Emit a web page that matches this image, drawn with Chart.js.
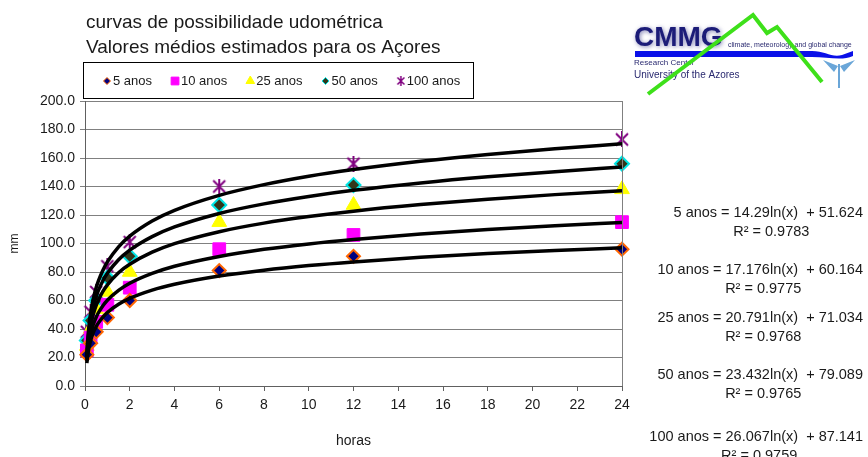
<!DOCTYPE html>
<html>
<head>
<meta charset="utf-8">
<script src="https://cdn.jsdelivr.net/npm/chart.js@4.4.1/dist/chart.umd.min.js"></script>
<style>
  html, body { margin: 0; padding: 0; background: #fff; overflow: hidden; }
  canvas { display: block; }
</style>
</head>
<body>
<canvas id="idf-chart" width="868" height="457"></canvas>
<script>
(function () {
  'use strict';

  // measured points (hours -> mm)
  const seriesLabels = ['5 anos', '10 anos', '25 anos', '50 anos', '100 anos'];
  const hours = [0.083, 0.25, 0.5, 1, 2, 6, 12, 24];
  const anos5 = [22, 30, 38, 48, 60, 81, 91, 96];
  const anos10 = [25, 34, 45, 57, 69, 96, 106, 115];
  const anos25 = [28, 40, 54, 66, 80, 115, 127, 138];
  const anos50 = [32, 46, 60, 76, 91, 127, 141, 156];
  const anos100 = [38, 52, 66, 84, 101, 140, 156, 173];

  // trend curves
  const trendHours = [0.083, 0.1, 0.12, 0.15, 0.2, 0.25, 0.33, 0.4, 0.5, 0.6, 0.8, 1, 1.5, 2, 3, 4, 6, 8, 10, 12, 15, 18, 21, 24];
  const trend5 = [16.1, 18.7, 21.3, 24.5, 28.6, 31.8, 35.8, 38.5, 41.7, 44.3, 48.4, 51.6, 57.4, 61.5, 67.3, 71.4, 77.2, 81.3, 84.5, 87.1, 90.3, 92.9, 95.1, 97.0];
  const trend10 = [17.4, 20.6, 23.8, 27.6, 32.5, 36.4, 41.1, 44.4, 48.3, 51.4, 56.3, 60.2, 67.1, 72.1, 79.0, 84.0, 90.9, 95.9, 99.7, 102.8, 106.7, 109.8, 112.5, 114.8];
  const trend25 = [19.3, 23.2, 26.9, 31.6, 37.6, 42.2, 48.0, 52.0, 56.6, 60.4, 66.4, 71.0, 79.5, 85.4, 93.9, 99.9, 108.3, 114.3, 118.9, 122.7, 127.3, 131.1, 134.3, 137.1];
  const trend50 = [20.8, 25.1, 29.4, 34.6, 41.4, 46.6, 53.1, 57.6, 62.8, 67.1, 73.9, 79.1, 88.6, 95.3, 104.8, 111.6, 121.1, 127.8, 133.0, 137.3, 142.5, 146.8, 150.4, 153.6];
  const trend100 = [22.3, 27.1, 31.9, 37.7, 45.2, 51.0, 58.2, 63.3, 69.1, 73.8, 81.3, 87.1, 97.7, 105.2, 115.8, 123.3, 133.8, 141.3, 147.2, 151.9, 157.7, 162.5, 166.5, 170.0];

  const equations = [
    '5 anos = 14.29ln(x)  + 51.624',
    '10 anos = 17.176ln(x)  + 60.164',
    '25 anos = 20.791ln(x)  + 71.034',
    '50 anos = 23.432ln(x)  + 79.089',
    '100 anos = 26.067ln(x)  + 87.141'
  ];
  const rSquared = ['R² = 0.9783', 'R² = 0.9775', 'R² = 0.9768', 'R² = 0.9765', 'R² = 0.9759'];
  const titleLines = ['curvas de possibilidade udométrica', 'Valores médios estimados para os Açores'];

  const FONT = '"Liberation Sans", Arial, sans-serif';
  const TEXT = '#1a1a1a';

  function asterisk(size, color, lw) {
    const c = document.createElement('canvas');
    c.width = size;
    c.height = size;
    const g = c.getContext('2d');
    const m = lw;
    g.strokeStyle = color;
    g.lineWidth = lw;
    g.beginPath();
    g.moveTo(m, m); g.lineTo(size - m, size - m);
    g.moveTo(size - m, m); g.lineTo(m, size - m);
    g.moveTo(size / 2, 0); g.lineTo(size / 2, size);
    g.stroke();
    return c;
  }

  const markers = [
    { pointStyle: 'rectRot', radius: 6.5, bg: '#000080', border: '#ff6600', bw: 2, lr: 3.5 },
    { pointStyle: 'rect', radius: 9, bg: '#ff00ff', border: '#ff00ff', bw: 1, lr: 5.5 },
    { pointStyle: 'triangle', radius: 8.5, bg: '#ffff00', border: '#ffff00', bw: 1, lr: 5 },
    { pointStyle: 'rectRot', radius: 7, bg: '#33361a', border: '#00e5e5', bw: 2, lr: 3.5 },
    { pointStyle: asterisk(16, '#800080', 2), radius: 8, bg: '#800080', border: '#800080', bw: 0,
      legendStyle: asterisk(10, '#800080', 1.5), lr: 5 }
  ];

  const pointSeries = [anos5, anos10, anos25, anos50, anos100];
  const trendSeries = [trend5, trend10, trend25, trend50, trend100];

  const datasets = [];
  trendSeries.forEach(function (arr, i) {
    datasets.push({
      label: 'trend ' + seriesLabels[i],
      data: trendHours.map(function (h, j) { return { x: h, y: arr[j] }; }),
      showLine: true,
      borderColor: '#000',
      borderWidth: 3.5,
      pointRadius: 0,
      cubicInterpolationMode: 'monotone',
      fill: false,
      order: 0
    });
  });
  pointSeries.forEach(function (arr, i) {
    const m = markers[i];
    datasets.push({
      label: seriesLabels[i],
      data: hours.map(function (h, j) { return { x: h, y: arr[j] }; }),
      showLine: false,
      pointStyle: m.pointStyle,
      pointRadius: m.radius,
      backgroundColor: m.bg,
      borderColor: m.border,
      borderWidth: m.bw,
      clip: false,
      order: 1
    });
  });

  const decor = {
    id: 'decor',
    afterDraw: function (chart) {
      const ctx = chart.ctx;
      const area = chart.chartArea;
      ctx.save();

      // right edge of the plot
      ctx.strokeStyle = '#808080';
      ctx.lineWidth = 1;
      ctx.beginPath();
      ctx.moveTo(Math.round(area.right) + 0.5, area.top);
      ctx.lineTo(Math.round(area.right) + 0.5, area.bottom);
      ctx.stroke();

      // title
      ctx.fillStyle = TEXT;
      ctx.textAlign = 'left';
      ctx.textBaseline = 'alphabetic';
      ctx.font = '19px ' + FONT;
      titleLines.forEach(function (t, i) { ctx.fillText(t, 86, 28 + i * 25); });

      // legend box
      ctx.strokeStyle = '#000';
      ctx.lineWidth = 1;
      ctx.strokeRect(83.5, 62.5, 390, 36);
      ctx.font = '13px ' + FONT;
      ctx.textBaseline = 'middle';
      let lx = 107;
      seriesLabels.forEach(function (label, i) {
        const m = markers[i];
        ctx.fillStyle = m.bg;
        ctx.strokeStyle = m.border;
        Chart.helpers.drawPoint(ctx, {
          pointStyle: m.legendStyle || m.pointStyle,
          radius: m.lr,
          rotation: 0,
          borderWidth: Math.min(m.bw, 1.5)
        }, lx, 81);
        ctx.fillStyle = TEXT;
        ctx.fillText(label, lx + 6, 81);
        lx += 6 + ctx.measureText(label).width + 23;
      });

      // trend equations
      ctx.font = '14.5px ' + FONT;
      ctx.textBaseline = 'middle';
      const eqY = [213, 270, 318, 375, 437];
      equations.forEach(function (eq, i) {
        const w = ctx.measureText(eq).width;
        ctx.textAlign = 'right';
        ctx.fillText(eq, 863, eqY[i]);
        ctx.textAlign = 'center';
        ctx.fillText(rSquared[i], 863 - w / 2 + 3, eqY[i] + 19);
      });

      // CMMG logo
      ctx.textAlign = 'left';
      ctx.textBaseline = 'alphabetic';
      ctx.shadowColor = 'rgba(30,30,120,0.55)';
      ctx.shadowBlur = 4;
      ctx.shadowOffsetX = 1;
      ctx.shadowOffsetY = 1;
      ctx.fillStyle = '#1c1c78';
      ctx.font = 'bold 28px ' + FONT;
      ctx.fillText('CMMG', 634, 46);
      ctx.shadowColor = 'transparent';

      ctx.fillStyle = '#0a10e8';
      ctx.beginPath();
      ctx.moveTo(635, 51);
      ctx.lineTo(812, 51);
      ctx.bezierCurveTo(825, 51, 832, 58, 842, 55);
      ctx.lineTo(853, 51);
      ctx.lineTo(853, 56);
      ctx.bezierCurveTo(842, 61, 828, 57, 812, 57);
      ctx.lineTo(635, 57);
      ctx.closePath();
      ctx.fill();

      ctx.fillStyle = '#2a2a70';
      ctx.font = '7px ' + FONT;
      ctx.fillText('climate, meteorology and global change', 728, 47);
      ctx.font = '8px ' + FONT;
      ctx.fillText('Research Center', 634, 65);
      ctx.font = '10px ' + FONT;
      ctx.fillText('University of the Azores', 634, 78);

      ctx.strokeStyle = '#3ee01a';
      ctx.lineWidth = 4;
      ctx.lineJoin = 'miter';
      ctx.beginPath();
      ctx.moveTo(648, 94);
      ctx.lineTo(753, 15);
      ctx.lineTo(767, 33);
      ctx.lineTo(777, 27);
      ctx.lineTo(822, 82);
      ctx.stroke();

      // emblem
      ctx.fillStyle = '#6aa6d8';
      ctx.beginPath();
      ctx.moveTo(838, 66); ctx.lineTo(823, 60); ctx.lineTo(834, 72); ctx.closePath();
      ctx.moveTo(840, 66); ctx.lineTo(855, 60); ctx.lineTo(844, 72); ctx.closePath();
      ctx.fill();
      ctx.strokeStyle = '#6aa6d8';
      ctx.lineWidth = 2;
      ctx.beginPath();
      ctx.moveTo(839, 64); ctx.lineTo(839, 88);
      ctx.stroke();

      ctx.restore();
    }
  };

  const tickFont = { family: FONT, size: 14 };

  new Chart(document.getElementById('idf-chart'), {
    type: 'scatter',
    data: { datasets: datasets },
    options: {
      responsive: false,
      animation: false,
      layout: { padding: { top: 101, right: 246, left: 0, bottom: 0 } },
      plugins: {
        legend: { display: false },
        tooltip: { enabled: false },
        title: { display: false }
      },
      scales: {
        x: {
          type: 'linear',
          min: 0,
          max: 24,
          ticks: { stepSize: 2, font: tickFont, color: TEXT, padding: 6, maxRotation: 0 },
          grid: { drawOnChartArea: false, tickLength: 5, color: '#606060' },
          border: { color: '#606060' },
          title: { display: true, text: 'horas', font: tickFont, color: TEXT, padding: { top: 4, bottom: 7 } },
          afterFit: function (scale) { scale.height = 71; }
        },
        y: {
          min: 0,
          max: 200,
          ticks: {
            stepSize: 20,
            font: tickFont,
            color: TEXT,
            padding: 5,
            callback: function (v) { return v.toFixed(1); }
          },
          grid: { color: '#808080', tickLength: 5 },
          border: { color: '#606060' },
          title: { display: true, text: 'mm', font: { family: FONT, size: 12 }, color: TEXT, padding: 7 },
          afterFit: function (scale) { scale.width = 85; }
        }
      }
    },
    plugins: [decor]
  });
})();
</script>
</body>
</html>
